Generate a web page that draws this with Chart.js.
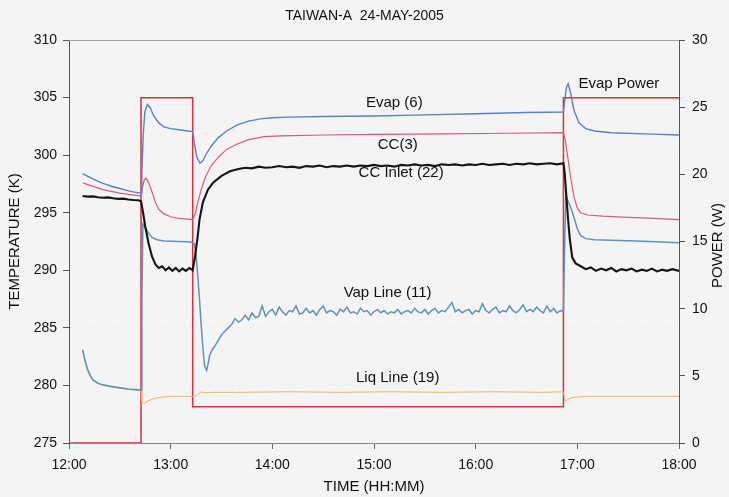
<!DOCTYPE html>
<html>
<head>
<meta charset="utf-8">
<title>TAIWAN-A 24-MAY-2005</title>
<script src="https://cdn.jsdelivr.net/npm/chart.js@4.4.0/dist/chart.umd.min.js"></script>
<style>
  html, body { margin: 0; padding: 0; background: #f4f4f4; }
  #wrap { width: 729px; height: 497px; }
</style>
</head>
<body>
<div id="wrap"><canvas id="chart" width="729" height="497"></canvas></div>
<script>
// times are minutes after 12:00
const xTicks = [0, 60, 120, 180, 240, 300, 360];
const tempTicks = [275, 280, 285, 290, 295, 300, 305, 310];
const powerTicks = [0, 5, 10, 15, 20, 25, 30];

const evapTime = [8, 12, 16, 20, 25, 30, 35, 40, 42.5, 43, 43.8, 44.8, 46.3, 48, 50, 53, 56, 60, 65, 70, 73, 74, 75.5, 77.3, 79, 81, 84, 88, 93, 99, 106, 113, 120, 130, 150, 180, 210, 240, 270, 291.8, 292.6, 293.6, 294.6, 296, 298, 301, 305, 310, 320, 340, 360];
const evapTemp = [298.4, 298.1, 297.8, 297.55, 297.3, 297.1, 296.9, 296.75, 296.7, 298.5, 301.8, 303.8, 304.4, 304.1, 303.4, 302.8, 302.45, 302.3, 302.2, 302.1, 302.05, 301.0, 299.8, 299.3, 299.5, 300.1, 300.8, 301.5, 302.1, 302.6, 302.95, 303.15, 303.25, 303.3, 303.35, 303.4, 303.5, 303.6, 303.7, 303.75, 304.8, 305.9, 306.2, 305.4, 303.9, 302.8, 302.3, 302.1, 301.95, 301.85, 301.75];

const ccTime = [8, 12, 16, 20, 25, 30, 35, 40, 42.5, 43.5, 44.5, 45.5, 47, 49, 51, 53, 56, 60, 65, 73, 74.5, 76, 78, 80.5, 84, 88, 93, 99, 106, 115, 125, 150, 180, 220, 260, 291.8, 292.8, 294, 296, 298, 300, 302, 306, 315, 330, 345, 360];
const ccTemp = [297.6, 297.4, 297.2, 297.0, 296.85, 296.7, 296.6, 296.5, 296.45, 297.3, 297.9, 298.0, 297.6, 296.8, 295.9, 295.3, 294.9, 294.65, 294.5, 294.4, 294.9, 295.9, 297.0, 298.1, 299.1, 299.8, 300.5, 300.95, 301.35, 301.6, 301.68, 301.75, 301.8, 301.85, 301.9, 301.95, 301.4, 300.2, 298.1, 296.4, 295.4, 295.0, 294.8, 294.7, 294.6, 294.5, 294.4];

const inletTime = [8, 11, 14, 17, 20, 23, 26, 29, 32, 35, 38, 41, 42.5, 43.5, 45, 47, 49, 51, 53, 55, 57, 59, 61, 63, 65, 67, 69, 71, 73, 74.5, 76, 77, 79, 82, 85, 90, 95, 100, 104, 108, 112, 116, 120, 124, 128, 132, 136, 140, 144, 148, 152, 156, 160, 164, 168, 172, 176, 180, 184, 188, 192, 196, 200, 204, 208, 212, 216, 220, 224, 228, 232, 236, 240, 244, 248, 252, 256, 260, 264, 268, 272, 276, 280, 284, 288, 291.8, 292.5, 293.5, 294.5, 295.5, 297, 299, 302, 305, 308, 311, 314, 317, 320, 323, 326, 329, 332, 335, 338, 341, 344, 347, 350, 353, 356, 360];
const inletTemp = [296.45, 296.4, 296.42, 296.35, 296.3, 296.33, 296.25, 296.2, 296.22, 296.15, 296.1, 296.08, 296.0, 295.2, 293.8, 292.3, 291.2, 290.5, 290.2, 290.35, 290.0, 290.25, 289.95, 290.2, 289.9, 290.15, 289.95, 290.2, 290.0, 291.3, 293.0, 294.4, 295.9, 297.0, 297.6, 298.2, 298.6, 298.8, 298.9, 298.85, 299.0, 298.9, 298.95, 299.05, 298.95, 299.0, 298.9, 299.05, 299.0, 299.1, 298.95, 299.05, 299.0, 299.1, 299.0, 299.1, 299.05, 299.15, 299.05, 299.1, 299.0, 299.15, 299.1, 299.2, 299.1, 299.15, 299.05, 299.2, 299.15, 299.2, 299.1, 299.2, 299.15, 299.25, 299.15, 299.2, 299.25, 299.15, 299.25, 299.2, 299.3, 299.2, 299.25, 299.3, 299.2, 299.3, 298.5, 296.5, 294.5, 292.8, 291.1, 290.6, 290.35, 290.1, 290.25, 289.95, 290.15, 290.0, 290.2, 289.9, 290.1, 290.0, 290.15, 289.9, 290.05, 289.95, 290.15, 289.9, 290.05, 289.95, 290.1, 289.95];

const vapTime = [8, 9, 10, 11, 12.5, 14, 17, 20, 25, 30, 35, 42.5, 43, 43.6, 45, 47, 49, 52, 56, 65, 72, 74, 75, 76, 77, 78, 79, 80, 81.2, 82, 83, 84.5, 86, 88, 90, 92, 94, 96, 98, 100, 102, 104, 106, 108, 110, 112, 114, 116, 118, 120, 122, 124, 126, 128, 130, 132, 134, 136, 138, 140, 142, 144, 146, 148, 150, 152, 154, 156, 158, 160, 162, 164, 166, 168, 170, 172, 174, 176, 178, 180, 182, 184, 186, 188, 190, 192, 194, 196, 198, 200, 202, 204, 206, 208, 210, 212, 214, 216, 218, 220, 222, 224, 226, 228, 230, 232, 234, 236, 238, 240, 242, 244, 246, 248, 250, 252, 254, 256, 258, 260, 262, 264, 266, 268, 270, 272, 274, 276, 278, 280, 282, 284, 286, 288, 290, 291.8, 292.5, 293.2, 294.5, 296, 298, 300, 302, 305, 310, 320, 335, 350, 360];
const vapTemp = [283.1, 282.5, 281.9, 281.4, 280.9, 280.5, 280.2, 280.05, 279.9, 279.8, 279.7, 279.6, 287.0, 294.0, 293.7, 293.2, 292.85, 292.65, 292.55, 292.5, 292.45, 292.3, 291.3, 289.5, 287.5, 285.3, 283.3, 281.7, 281.3, 281.8, 282.6, 283.1, 283.4, 283.9, 284.4, 284.7, 285.0,
  285.3, 285.8, 285.5, 285.7, 286.1, 285.7, 286.3, 285.9, 286.0, 286.9, 286.0, 286.4, 286.6, 286.1, 286.8, 286.4, 286.1, 286.5, 286.4, 286.9,
  286.2, 286.3, 286.7, 286.3, 286.5, 286.1, 286.6, 286.9, 286.3, 286.5, 286.4, 286.1, 286.6, 286.4, 286.8, 286.3, 286.4, 286.2, 286.7, 286.4,
  286.5, 286.1, 286.4, 286.6, 286.3, 286.5, 286.2, 286.4, 286.3, 286.6, 286.2, 286.4, 286.5, 286.3, 286.7, 286.4, 286.3, 286.6, 286.2, 286.5,
  286.7, 286.3, 286.5, 286.4, 286.8, 287.2, 286.4, 286.6, 286.3, 286.5, 286.6, 286.2, 286.5, 286.4, 287.1, 286.5, 286.3, 286.6, 286.8, 286.3,
  286.5, 286.4, 286.9, 286.5, 286.3, 286.6, 287.0, 286.4, 286.6, 286.4, 286.8, 286.5, 286.3, 286.9, 286.4, 286.7, 286.3, 286.5,
  286.4, 292.0, 296.5, 296.0, 295.5, 294.6, 293.6, 293.0, 292.75, 292.65, 292.6, 292.55, 292.45, 292.4];

const liqTime = [8, 9, 10, 11, 12.5, 14, 17, 20, 25, 30, 35, 42.5, 43, 44, 46, 49, 53, 60, 70, 74, 76, 78, 80, 85, 100, 130, 160, 190, 220, 250, 280, 291.8, 292.8, 294, 297, 305, 330, 360];
const liqTemp = [283.1, 282.3, 281.7, 281.2, 280.8, 280.45, 280.15, 280.0, 279.85, 279.75, 279.65, 279.55, 278.6, 278.4, 278.6, 278.8, 278.95, 279.05, 279.05, 279.05, 279.2, 279.45, 279.35, 279.4, 279.4, 279.45, 279.4, 279.45, 279.4, 279.45, 279.4, 279.45, 278.6, 278.75, 278.95, 279.05, 279.05, 279.05];

const powerTime = [0, 42.5, 42.5, 73, 73, 291.8, 291.8, 360];
const powerW = [0, 0, 25.7, 25.7, 2.7, 2.7, 25.7, 25.7];

// in-plot series names: [text, minutes, kelvin]
const seriesLabels = [
  ['Evap (6)', 192, 304.5],
  ['CC(3)', 194, 300.9],
  ['CC Inlet (22)', 196, 298.5],
  ['Vap Line (11)', 188, 288.0],
  ['Liq Line (19)', 194, 280.7],
  ['Evap Power', 324.5, 306.2]
];

const FONT = '"Liberation Sans", Arial, sans-serif';
const zip = (t, v) => t.map((x, i) => ({ x: x, y: v[i] }));

const labelPlugin = {
  id: 'labels',
  beforeDraw(chart) {
    const c = chart.ctx;
    c.save();
    c.fillStyle = '#f4f4f4';
    c.fillRect(0, 0, chart.width, chart.height);
    c.restore();
  },
  afterDatasetsDraw(chart) {
    const c = chart.ctx, xs = chart.scales.x, ys = chart.scales.y, a = chart.chartArea;
    c.save();
    // top frame
    c.strokeStyle = '#a0a0a8';
    c.lineWidth = 1;
    c.beginPath();
    c.moveTo(a.left, a.top + 0.5);
    c.lineTo(a.right, a.top + 0.5);
    c.stroke();
    c.fillStyle = '#111';
    c.font = '15px ' + FONT;
    c.textAlign = 'center';
    c.textBaseline = 'middle';
    seriesLabels.forEach(([t, m, k]) => {
      c.fillText(t, xs.getPixelForValue(m), ys.getPixelForValue(k));
    });
    // right axis title, reading upward
    c.translate(718, (a.top + a.bottom) / 2 + 4);
    c.rotate(-Math.PI / 2);
    c.fillText('POWER (W)', 0, 0);
    c.restore();
  }
};

const line = (label, data, color, width, axis) => ({
  label: label,
  data: data,
  borderColor: color,
  borderWidth: width,
  pointRadius: 0,
  fill: false,
  yAxisID: axis || 'y'
});

new Chart(document.getElementById('chart'), {
  type: 'line',
  data: {
    datasets: [
      line('Evap (6)', zip(evapTime, evapTemp), '#5a80c8', 1.4),
      line('CC(3)', zip(ccTime, ccTemp), '#d85a7c', 1.2),
      line('CC Inlet (22)', zip(inletTime, inletTemp), '#151515', 2.1),
      line('Vap Line (11)', zip(vapTime, vapTemp), '#5f92bb', 1.5),
      line('Liq Line (19)', zip(liqTime, liqTemp), '#e6b86a', 1),
      line('Evap Power', zip(powerTime, powerW), '#d8303f', 1.5, 'y1')
    ]
  },
  options: {
    responsive: false,
    animation: false,
    events: [],
    layout: { padding: 0 },
    plugins: {
      legend: { display: false },
      tooltip: { enabled: false },
      title: {
        display: true,
        text: 'TAIWAN-A  24-MAY-2005',
        color: '#111',
        font: { family: FONT, size: 14, weight: 'normal' },
        padding: { top: 8, bottom: 15.2 }
      }
    },
    scales: {
      x: {
        type: 'linear',
        min: 0,
        max: 360,
        afterBuildTicks: s => { s.ticks = xTicks.map(v => ({ value: v })); },
        afterFit: s => { s.height = 54; },
        ticks: {
          color: '#111',
          padding: 8,
          maxRotation: 0,
          font: { family: FONT, size: 14 },
          callback: v => (12 + v / 60) + ':00'
        },
        grid: { drawOnChartArea: false, tickLength: 6, tickColor: '#666' },
        border: { color: '#8a8a95' },
        title: {
          display: true,
          text: 'TIME (HH:MM)',
          color: '#111',
          font: { family: FONT, size: 15 },
          padding: { top: 0, bottom: 1 }
        }
      },
      y: {
        position: 'left',
        min: 275,
        max: 310,
        afterBuildTicks: s => { s.ticks = tempTicks.map(v => ({ value: v })); },
        afterFit: s => { s.width = 69; },
        ticks: { color: '#111', padding: 6, font: { family: FONT, size: 14 } },
        grid: { color: 'rgba(0,0,0,0.08)', tickLength: 6, tickColor: '#555' },
        border: { color: '#555', dash: [1, 5] },
        title: {
          display: true,
          text: 'TEMPERATURE (K)',
          color: '#111',
          font: { family: FONT, size: 15 },
          padding: { top: 6, bottom: 0 }
        }
      },
      y1: {
        position: 'right',
        min: 0,
        max: 30,
        afterBuildTicks: s => { s.ticks = powerTicks.map(v => ({ value: v })); },
        afterFit: s => { s.width = 50; },
        ticks: { color: '#111', padding: 7, font: { family: FONT, size: 14 } },
        grid: { drawOnChartArea: false, tickLength: 6, tickColor: '#555' },
        border: { color: '#555' }
      }
    }
  },
  plugins: [labelPlugin]
});
</script>
</body>
</html>
